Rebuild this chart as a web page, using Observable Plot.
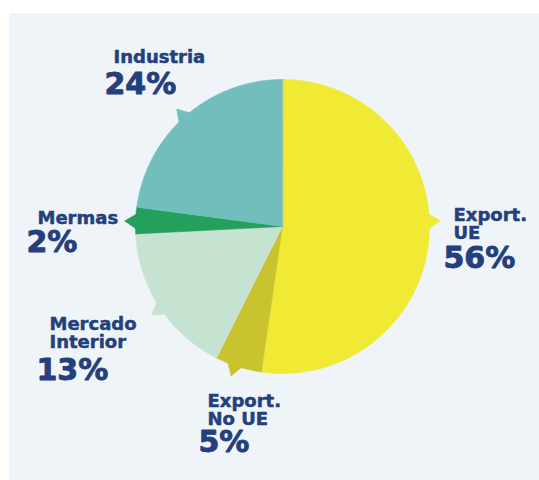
<!DOCTYPE html>
<html><head><meta charset="utf-8">
<script src="https://cdn.jsdelivr.net/npm/d3@7"></script>
<script src="https://cdn.jsdelivr.net/npm/@observablehq/plot@0.6"></script>
<style>
html,body{margin:0;padding:0;background:#fff;}
#panel{position:absolute;left:9px;top:13px;width:530px;height:467px;background:#eef4f8;overflow:hidden;}
#panel svg{display:block;background:transparent;}
</style></head><body><div id="panel"></div>
<script>
// ---- data ----
const categories = ["Export. UE", "Export. No UE", "Mercado Interior", "Mermas", "Industria"];
const labelNames = ["Export.\nUE", "Export.\nNo UE", "Mercado\nInterior", "Mermas", "Industria"];
const percentLabels = ["56%", "5%", "13%", "2%", "24%"];
const sliceShares = [52.3, 5.1, 16.8, 2.9, 22.9];

// ---- style & layout ----
const colors = ["#f0ea35", "#c9c42e", "#c5e3d0", "#24a05c", "#72bebd"];
const textColor = "#243f7c";
const W = 530, H = 467;
const center = [273, 213], R = 147;
const pointerAngles = [88, 199, 236, 272, 318];
const pointerTip = 1.075, pointerHalf = 4;
const namePos = [[444, 195], [198, 381], [40, 304], [28, 198], [104, 37]];
const pctPos = [[434, 233], [189, 417], [27, 345], [17, 217], [95, 59]];
const fontFamily = "'DejaVu Sans', sans-serif";

const rad = Math.PI / 180;
const pt = (a, r) => ({x: center[0] + r * Math.sin(a), y: center[1] - r * Math.cos(a)});

const arcs = d3.pie().sort(null).value(d => d)(sliceShares);
const slices = arcs.map((a, i) => {
  const pts = [{x: center[0], y: center[1]}];
  const n = Math.max(2, Math.ceil((a.endAngle - a.startAngle) / (0.5 * rad)));
  for (let k = 0; k <= n; k++) pts.push(pt(a.startAngle + (a.endAngle - a.startAngle) * k / n, R));
  return {key: categories[i], color: colors[i], pts};
});
const pointers = pointerAngles.map((deg, i) => ({
  key: categories[i], color: colors[i],
  pts: [pt((deg - pointerHalf) * rad, R * 0.97), pt(deg * rad, R * pointerTip), pt((deg + pointerHalf) * rad, R * 0.97)]
}));

const nameData = categories.map((c, i) => ({x: namePos[i][0], y: namePos[i][1], text: labelNames[i]}));
const pctData = categories.map((c, i) => ({x: pctPos[i][0], y: pctPos[i][1], text: percentLabels[i]}));

const marks = [
  ...pointers.map(p => Plot.line(p.pts, {x: "x", y: "y", fill: p.color, stroke: p.color, strokeWidth: 0.6, curve: "linear-closed"})),
  ...slices.map(p => Plot.line(p.pts, {x: "x", y: "y", fill: p.color, stroke: p.color, strokeWidth: 0.6, curve: "linear-closed"})),
  Plot.text(nameData, {x: "x", y: "y", text: "text", textAnchor: "start", lineAnchor: "top", lineHeight: 1,
    fontSize: 18, fontWeight: "bold", fontFamily, fill: textColor, stroke: textColor, strokeWidth: 0.5}),
  Plot.text(pctData, {x: "x", y: "y", text: "text", textAnchor: "start", lineAnchor: "top",
    fontSize: 30, fontWeight: "bold", fontFamily, fill: textColor, stroke: textColor, strokeWidth: 0.9})
];

const chart = Plot.plot({
  width: W, height: H, margin: 0,
  x: {domain: [0, W], range: [0, W], axis: null},
  y: {domain: [0, H], range: [0, H], axis: null},
  style: {background: "transparent"},
  marks
});
document.getElementById("panel").appendChild(chart);
</script></body></html>
